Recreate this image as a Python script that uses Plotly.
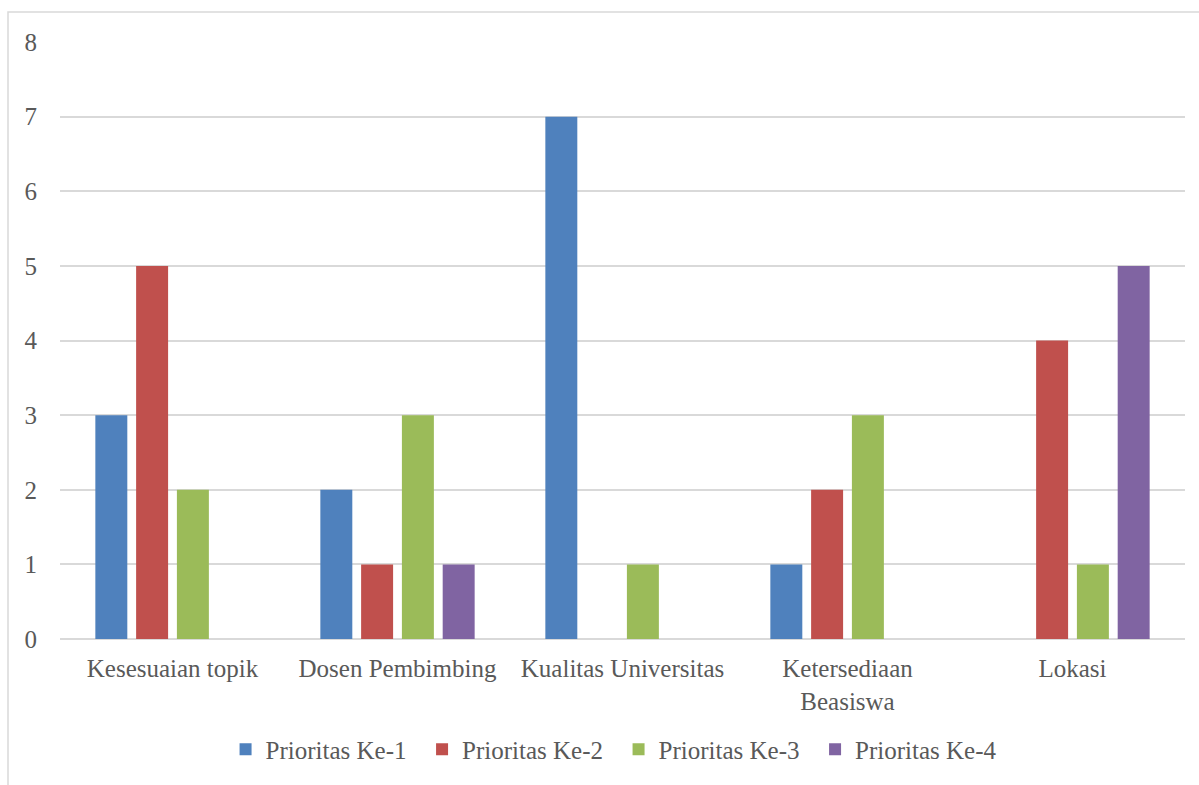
import plotly.graph_objects as go

categories = ["Kesesuaian topik", "Dosen Pembimbing", "Kualitas Universitas",
              "Ketersediaan<br>Beasiswa", "Lokasi"]
series_names = ["Prioritas Ke-1", "Prioritas Ke-2", "Prioritas Ke-3", "Prioritas Ke-4"]
prioritas_1 = [3, 2, 7, 1, 0]
prioritas_2 = [5, 1, 0, 2, 4]
prioritas_3 = [2, 3, 1, 3, 1]
prioritas_4 = [0, 1, 0, 0, 5]
y_ticks = [0, 1, 2, 3, 4, 5, 6, 7, 8]

colors = ["#4F81BD", "#C0504D", "#9BBB59", "#8064A2"]
values = [prioritas_1, prioritas_2, prioritas_3, prioritas_4]

FONT = "Liberation Serif"
TXT = "#595959"

fig = go.Figure()
for name, vals, col in zip(series_names, values, colors):
    fig.add_trace(go.Bar(x=categories, y=vals, name=name,
                         marker=dict(color=col, line=dict(width=0))))

W, H = 1199, 785
ml, mr, mt, mb = 60, 14, 42, 144
pw, ph = W - ml - mr, H - mt - mb

fig.update_layout(
    width=W, height=H,
    margin=dict(l=ml, r=mr, t=mt, b=mb),
    paper_bgcolor="white", plot_bgcolor="white",
    barmode="group", bargap=0.275, bargroupgap=0.216,
    font=dict(family=FONT, size=25, color=TXT),
    showlegend=True,
    legend=dict(orientation="h", x=0.4965, xanchor="center", y=-0.185, yanchor="middle",
                font=dict(family=FONT, size=25, color=TXT),
                itemclick=False, traceorder="normal",
                entrywidth=151.5, entrywidthmode="pixels"),
    xaxis=dict(showgrid=False, showline=False, ticks="", ticklabelstandoff=12,
               tickfont=dict(size=25, color=TXT)),
    yaxis=dict(range=[0, 8], tickvals=y_ticks, showgrid=True, gridcolor="#d9d9d9",
               gridwidth=1.5, zeroline=True, zerolinecolor="#d9d9d9", zerolinewidth=2,
               showline=False, ticks="", ticklabelstandoff=22,
               tickfont=dict(size=25, color=TXT)),
)

# outer chart border (left and top visible, extends past window)
fig.add_shape(type="rect", xref="paper", yref="paper",
              x0=(8 - ml) / pw, x1=(W + 20 - ml) / pw,
              y0=(ph + mt - (H + 20)) / ph, y1=(ph + mt - 12) / ph,
              line=dict(color="#d9d9d9", width=1.5), fillcolor="rgba(0,0,0,0)", layer="below")

fig.write_html("out.html")
